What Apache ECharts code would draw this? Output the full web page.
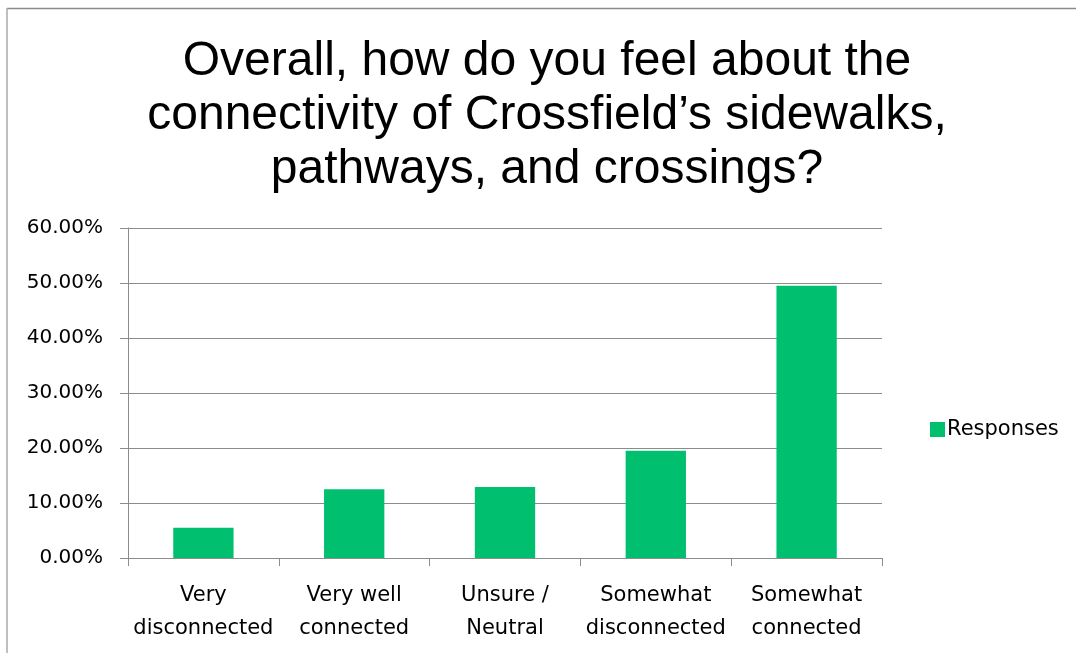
<!DOCTYPE html>
<html>
<head>
<meta charset="utf-8">
<script src="https://cdn.jsdelivr.net/npm/echarts@6/dist/echarts.min.js"></script>
<style>
html,body{margin:0;padding:0;background:#fff;}
#chart{width:1076px;height:653px;}
</style>
</head>
<body>
<div id="chart"></div>
<script>
const titleLines = ["Overall, how do you feel about the", "connectivity of Crossfield\u2019s sidewalks,", "pathways, and crossings?"];
const categories = ["Very\ndisconnected", "Very well\nconnected", "Unsure /\nNeutral", "Somewhat\ndisconnected", "Somewhat\nconnected"];
const seriesName = "Responses";
const responses = [5.5, 12.5, 12.9, 19.5, 49.5];
const yMin = 0, yMax = 60, yStep = 10;

const chart = echarts.init(document.getElementById('chart'));
const gray = '#8c8c8c';
chart.setOption({
  animation: false,
  backgroundColor: '#fff',
  title: {
    text: titleLines.join('\n'),
    left: 547,
    textAlign: 'center',
    top: 35,
    padding: 0,
    textStyle: {fontFamily: 'Liberation Sans', fontSize: 48, lineHeight: 54, fontWeight: 'normal', color: '#000'}
  },
  legend: {
    data: [seriesName],
    left: 925,
    top: 414,
    orient: 'vertical',
    itemWidth: 15,
    itemHeight: 15,
    itemGap: 7,
    icon: 'rect',
    textStyle: {fontFamily: 'DejaVu Sans', fontSize: 21, color: '#000', padding: [0,0,0,-3]}
  },
  grid: {left: 128, right: 194, top: 228, bottom: 95, containLabel: false},
  xAxis: {
    type: 'category',
    data: categories,
    boundaryGap: true,
    axisLine: {show: true, lineStyle: {color: gray, width: 1}},
    axisTick: {show: true, length: 8, alignWithLabel: false, lineStyle: {color: gray}},
    axisLabel: {interval: 0, margin: 21, fontFamily: 'DejaVu Sans', fontSize: 21, lineHeight: 33, color: '#000'}
  },
  yAxis: {
    type: 'value',
    min: yMin, max: yMax, interval: yStep,
    axisLine: {show: true, lineStyle: {color: gray, width: 1}},
    axisTick: {show: true, length: 8, lineStyle: {color: gray}},
    splitLine: {show: true, lineStyle: {color: gray, width: 1}},
    axisLabel: {margin: 25, fontFamily: 'DejaVu Sans', fontSize: 20, color: '#000',
      formatter: v => v.toFixed(2) + '%'}
  },
  series: [{
    name: seriesName,
    type: 'bar',
    data: responses,
    barCategoryGap: '60%',
    itemStyle: {color: '#00BF6F'}
  }],
  graphic: [
    {type: 'line', shape: {x1: 7, y1: 8.5, x2: 1076, y2: 8.5}, style: {stroke: '#8a8a8a', lineWidth: 1.5}, silent: true},
    {type: 'line', shape: {x1: 7, y1: 8, x2: 7, y2: 653}, style: {stroke: '#aaaaaa', lineWidth: 1.5}, silent: true}
  ]
});
</script>
</body>
</html>
